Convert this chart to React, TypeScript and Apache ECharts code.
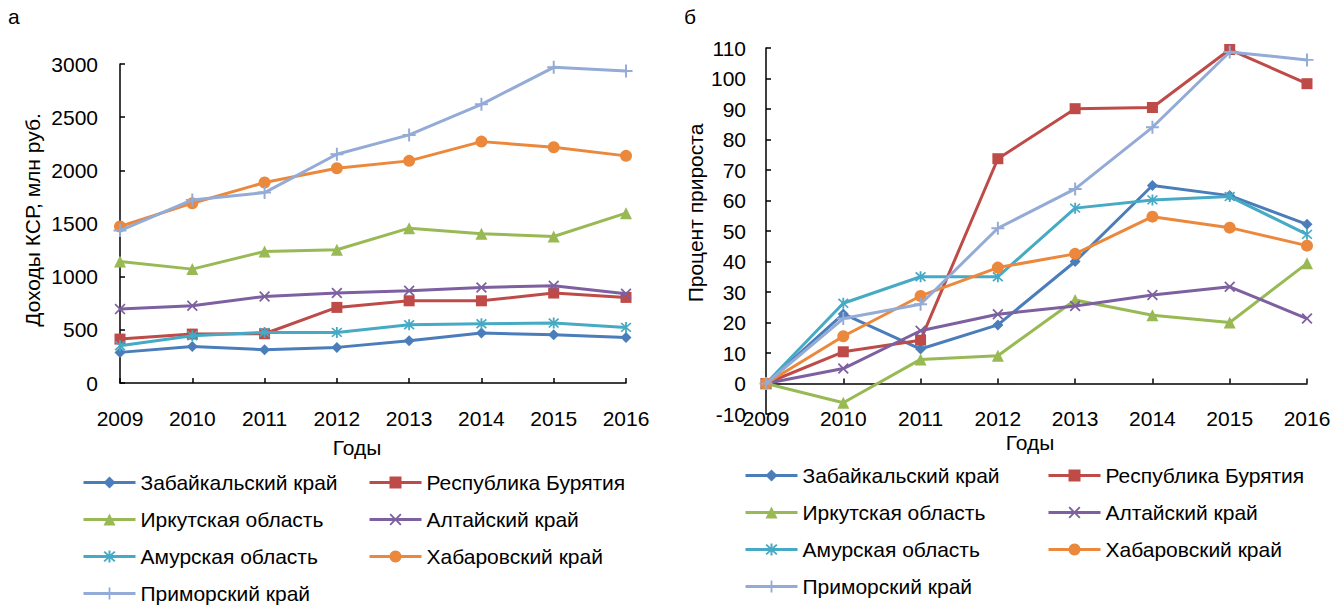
import React, { useEffect, useRef } from "react";
import * as echarts from "echarts";

const years = ["2009", "2010", "2011", "2012", "2013", "2014", "2015", "2016"];

const regionNames = [
  "Забайкальский край",
  "Республика Бурятия",
  "Иркутская область",
  "Алтайский край",
  "Амурская область",
  "Хабаровский край",
  "Приморский край",
];

// Panel "а": income of KSR, mln rub.
const incomeZabaikalsky = [288, 344, 313, 335, 398, 470, 454, 429];
const incomeBuryatia = [413, 460, 463, 711, 773, 773, 846, 805];
const incomeIrkutsk = [1143, 1071, 1237, 1253, 1456, 1403, 1378, 1597];
const incomeAltai = [695, 727, 814, 846, 867, 899, 914, 839];
const incomeAmur = [351, 445, 476, 476, 548, 557, 564, 523];
const incomeKhabarovsk = [1472, 1691, 1885, 2020, 2089, 2270, 2217, 2136];
const incomePrimorsky = [1434, 1722, 1791, 2151, 2333, 2621, 2969, 2934];

// Panel "б": growth percent
const growthZabaikalsky = [0, 22.8, 11.3, 19.2, 40.0, 64.9, 61.6, 52.2];
const growthBuryatia = [0, 10.4, 14.2, 73.7, 90.1, 90.5, 109.5, 98.3];
const growthIrkutsk = [0, -6.3, 7.9, 9.1, 27.4, 22.4, 20.0, 39.4];
const growthAltai = [0, 4.9, 17.3, 22.7, 25.4, 29.0, 31.7, 21.3];
const growthAmur = [0, 26.3, 35.0, 35.0, 57.5, 60.2, 61.3, 48.9];
const growthKhabarovsk = [0, 15.5, 28.7, 38.0, 42.5, 54.7, 51.1, 45.2];
const growthPrimorsky = [0, 21.3, 26.0, 50.9, 63.8, 84.0, 108.7, 106.1];

const incomeTicks = { min: 0, max: 3000, interval: 500 };
const growthTicks = { min: -10, max: 110, interval: 10 };

const colors = ["#4A7DBA", "#BE4B48", "#98B954", "#7D60A0", "#46AAC5", "#EB883C", "#93ABD6"];

const PLUS = "path://M8.5,0H11.5V8.5H20V11.5H11.5V20H8.5V11.5H0V8.5H8.5Z";
const XMARK = "path://M1,3L3,1L10,8L17,1L19,3L12,10L19,17L17,19L10,12L3,19L1,17L8,10Z";
const ASTER = "path://M8.5,0H11.5V20H8.5Z M1,3L3,1L19,17L17,19Z M17,1L19,3L3,19L1,17Z";

const symbols = ["diamond", "rect", "triangle", XMARK, ASTER, "circle", PLUS];
const symbolSizes = [11, 11, 12, 11, 11, 12, 13];

const FONT = "'Liberation Sans', Arial, sans-serif";
const FS = 21;

export default function App() {
  const ref = useRef<HTMLDivElement>(null);

  useEffect(() => {
    document.body.style.margin = "0";
    const chart = echarts.init(ref.current!, null, { renderer: "svg" });

    const incomeSets = [
      incomeZabaikalsky,
      incomeBuryatia,
      incomeIrkutsk,
      incomeAltai,
      incomeAmur,
      incomeKhabarovsk,
      incomePrimorsky,
    ];
    const growthSets = [
      growthZabaikalsky,
      growthBuryatia,
      growthIrkutsk,
      growthAltai,
      growthAmur,
      growthKhabarovsk,
      growthPrimorsky,
    ];

    const mkSeries = (data: number[], i: number, xi: number, yi: number) => ({
      type: "line",
      name: regionNames[i],
      data,
      xAxisIndex: xi,
      yAxisIndex: yi,
      symbol: symbols[i],
      symbolSize: symbolSizes[i],
      showAllSymbol: true,
      lineStyle: { color: colors[i], width: 3 },
      itemStyle: { color: colors[i] },
      emphasis: { disabled: true },
      z: 2 + i,
    });

    const series: any[] = [];
    incomeSets.forEach((d, i) => series.push(mkSeries(d, i, 0, 0)));
    growthSets.forEach((d, i) => series.push(mkSeries(d, i, 1, 1)));

    const axisLabelStyle = { color: "#000", fontSize: FS, fontFamily: FONT };
    const blackLine = { show: true, lineStyle: { color: "#000", width: 1.5 } };
    const plainNumber = (v: number) => String(v);

    const legendBase = {
      orient: "vertical",
      itemWidth: 52,
      itemHeight: 15,
      itemGap: 16,
      padding: 0,
      selectedMode: false,
      lineStyle: { width: 3 },
      textStyle: { color: "#000", fontSize: FS, fontFamily: FONT },
    };

    const option: any = {
      animation: false,
      grid: [
        { left: 120, right: 1342 - 626, top: 64, bottom: 605 - 383 },
        { left: 766, right: 1342 - 1307, top: 48, bottom: 605 - 414 },
      ],
      xAxis: [
        {
          type: "category",
          gridIndex: 0,
          data: years,
          boundaryGap: false,
          axisLine: blackLine,
          axisTick: { show: true, inside: true, length: 5, lineStyle: { color: "#000", width: 1.5 } },
          axisLabel: { ...axisLabelStyle, margin: 25 },
        },
        {
          type: "category",
          gridIndex: 1,
          data: years,
          boundaryGap: false,
          position: "bottom",
          axisLine: { show: false, onZero: false },
          axisTick: { show: false },
          axisLabel: { ...axisLabelStyle, margin: -6 },
        },
        {
          type: "category",
          gridIndex: 1,
          data: years,
          boundaryGap: false,
          position: "top",
          axisLine: { show: true, onZero: true, lineStyle: { color: "#000", width: 1.5 } },
          axisTick: { show: true, inside: false, length: 5, lineStyle: { color: "#000", width: 1.5 } },
          axisLabel: { show: false },
        },
      ],
      yAxis: [
        {
          type: "value",
          gridIndex: 0,
          ...incomeTicks,
          axisLine: blackLine,
          axisTick: { show: true, inside: true, length: 5, lineStyle: { color: "#000", width: 1.5 } },
          splitLine: { show: false },
          axisLabel: { ...axisLabelStyle, margin: 22, formatter: plainNumber },
        },
        {
          type: "value",
          gridIndex: 1,
          ...growthTicks,
          axisLine: blackLine,
          axisTick: { show: true, inside: true, length: 5, lineStyle: { color: "#000", width: 1.5 } },
          splitLine: { show: false },
          axisLabel: { ...axisLabelStyle, margin: 20, formatter: plainNumber },
        },
      ],
      legend: [
        { ...legendBase, left: 82, top: 472, data: [regionNames[0], regionNames[2], regionNames[4], regionNames[6]] },
        { ...legendBase, left: 368, top: 472, data: [regionNames[1], regionNames[3], regionNames[5]] },
        { ...legendBase, left: 744, top: 465, data: [regionNames[0], regionNames[2], regionNames[4], regionNames[6]] },
        { ...legendBase, left: 1047, top: 465, data: [regionNames[1], regionNames[3], regionNames[5]] },
      ],
      graphic: [
        { type: "text", left: 8, top: 6, style: { text: "а", fontSize: FS, fontFamily: FONT, fill: "#000" } },
        { type: "text", left: 684, top: 6, style: { text: "б", fontSize: FS, fontFamily: FONT, fill: "#000" } },
        {
          type: "text",
          x: 32,
          y: 220,
          rotation: Math.PI / 2,
          style: {
            text: "Доходы КСР, млн руб.",
            fontSize: FS,
            fontFamily: FONT,
            fill: "#000",
            align: "center",
            verticalAlign: "middle",
          },
        },
        {
          type: "text",
          x: 357,
          y: 447,
          style: { text: "Годы", fontSize: FS, fontFamily: FONT, fill: "#000", align: "center", verticalAlign: "middle" },
        },
        {
          type: "text",
          x: 695,
          y: 213,
          rotation: Math.PI / 2,
          style: {
            text: "Процент прироста",
            fontSize: FS,
            fontFamily: FONT,
            fill: "#000",
            align: "center",
            verticalAlign: "middle",
          },
        },
        {
          type: "text",
          x: 1030,
          y: 442,
          style: { text: "Годы", fontSize: FS, fontFamily: FONT, fill: "#000", align: "center", verticalAlign: "middle" },
        },
      ],
      series,
    };

    chart.setOption(option);
    return () => chart.dispose();
  }, []);

  return <div ref={ref} style={{ position: "absolute", left: 0, top: 0, width: 1342, height: 605 }} />;
}
